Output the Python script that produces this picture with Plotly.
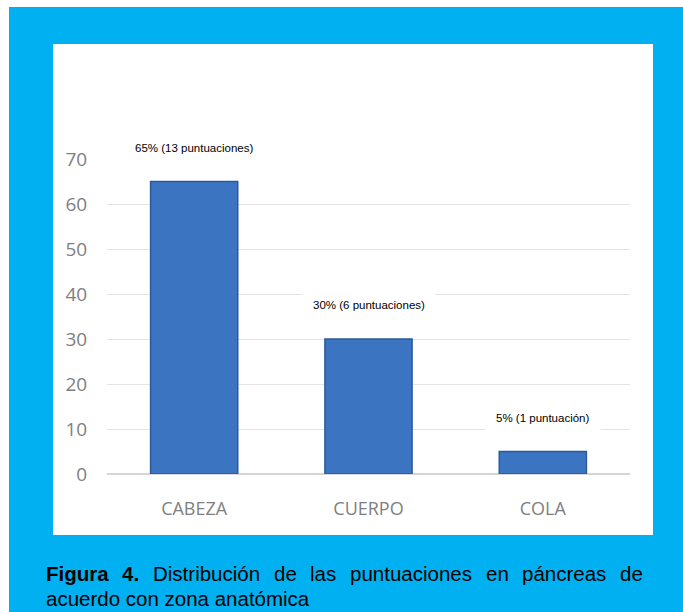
import plotly.graph_objects as go

# ---- data ----
categories = ["CABEZA", "CUERPO", "COLA"]
values = [65, 30, 5]
labels = ["65% (13 puntuaciones)", "30% (6 puntuaciones)", "5% (1 puntuación)"]
y_ticks = [0, 10, 20, 30, 40, 50, 60, 70]
caption_line1 = ["Figura", "4.", "Distribución", "de", "las",
                 "puntuaciones", "en", "páncreas", "de"]
caption_bold = [True, True, False, False, False, False, False, False, False]
caption_line2 = "acuerdo con zona anatómica"

# ---- layout geometry (pixels) ----
W, H = 683, 612
L, R, T, B = 107, 630, 159, 474
PW, PH = R - L, B - T


def px(x):
    return (x - L) / PW


def py(y):
    return (B - y) / PH


BLUE = "#00B0F0"
CAP_SIZE = 20.5
CAP_FONT = "Liberation Sans, Arial"

# Arial advance widths (em) used to justify the first caption line
REG = {"D": .722, "i": .222, "s": .5, "t": .278, "r": .333, "b": .556,
       "u": .556, "c": .5, "ó": .556, "n": .556, "d": .556, "e": .556,
       "l": .222, "a": .556, "p": .556, "o": .556, "á": .556}
BOLD = {"F": .611, "i": .278, "g": .611, "u": .611, "r": .389, "a": .556,
        "4": .556, ".": .278}


def word_w(w, bold):
    tab = BOLD if bold else REG
    return sum(tab.get(ch, .55) for ch in w) * CAP_SIZE


fig = go.Figure()
fig.add_trace(go.Bar(
    x=categories, y=values,
    marker=dict(color="#3B75C1", line=dict(color="#2B5A9B", width=1.5)),
    width=0.5, hoverinfo="skip",
))

# data labels above bars
for c, v, t in zip(categories, values, labels):
    fig.add_annotation(x=c, y=v, xref="x", yref="y", text=t, showarrow=False,
                       yshift=34, yanchor="middle", bgcolor="white",
                       borderpad=10,
                       font=dict(family="Liberation Sans, Arial", size=11.5,
                                 color="#000000"))

# background panels
fig.add_shape(type="rect", xref="paper", yref="paper", layer="below",
              x0=px(9), x1=px(690), y0=py(7), y1=py(620),
              fillcolor=BLUE, line=dict(width=0))
fig.add_shape(type="rect", xref="paper", yref="paper", layer="below",
              x0=px(53), x1=px(653), y0=py(44), y1=py(535),
              fillcolor="white", line=dict(width=0))

# caption (justified first line)
x_start, x_end = 44, 641
widths = [word_w(w, b) for w, b in zip(caption_line1, caption_bold)]
gap = (x_end - x_start - sum(widths)) / (len(caption_line1) - 1)
xx = x_start
for w, b, ww in zip(caption_line1, caption_bold, widths):
    fig.add_annotation(x=px(xx), y=py(573), xref="paper", yref="paper",
                       text=f"<b>{w}</b>" if b else w, showarrow=False,
                       xanchor="left", yanchor="middle",
                       font=dict(family=CAP_FONT, size=CAP_SIZE,
                                 color="#000000"))
    xx += ww + gap
fig.add_annotation(x=px(x_start), y=py(598), xref="paper", yref="paper",
                   text=caption_line2, showarrow=False, xanchor="left",
                   yanchor="middle",
                   font=dict(family=CAP_FONT, size=CAP_SIZE, color="#000000"))

fig.update_layout(
    width=W, height=H,
    margin=dict(l=L, r=W - R, t=T, b=H - B, pad=0),
    paper_bgcolor="white", plot_bgcolor="rgba(0,0,0,0)",
    showlegend=False, bargap=0.5,
    xaxis=dict(showgrid=False, showline=False, zeroline=False,
               ticks="outside", ticklen=18, tickcolor="rgba(0,0,0,0)",
               tickfont=dict(family="Open Sans", size=18, color="#7F7F7F"),
               fixedrange=True),
    yaxis=dict(range=[0, 70], tickvals=y_ticks, showgrid=True,
               gridcolor="#E4E4E4", gridwidth=1.2, zeroline=True,
               zerolinecolor="#D6D6D6", zerolinewidth=1.5, showline=False,
               ticks="outside", ticklen=15, tickcolor="rgba(0,0,0,0)",
               tickfont=dict(family="Open Sans", size=19, color="#7F7F7F"),
               fixedrange=True),
)

fig.write_html("out.html", config={"displayModeBar": False},
               post_script="document.body.style.margin='0';"
                           "document.body.style.overflow='hidden';")
